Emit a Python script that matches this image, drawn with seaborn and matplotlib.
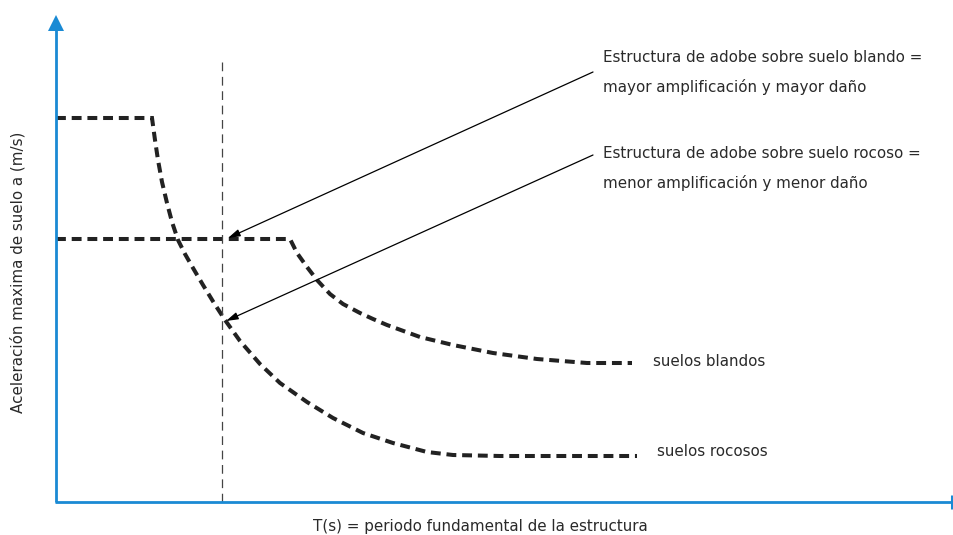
import numpy as np
import pandas as pd
import matplotlib
matplotlib.use("Agg")
import matplotlib.pyplot as plt
import seaborn as sns

# =========================================================
# DATOS (T en s, a en m/s)
# =========================================================
rocoso_T = [0.00, 0.96, 0.99, 1.02, 1.06, 1.11, 1.16, 1.22, 1.29, 1.37, 1.47,
            1.58, 1.69, 1.84, 2.04, 2.24, 2.51, 2.77, 3.07, 3.37, 3.71, 3.97,
            4.44, 5.81]
rocoso_a = [3.84, 3.84, 3.62, 3.42, 3.20, 2.99, 2.80, 2.62, 2.48, 2.34, 2.17,
            1.99, 1.82, 1.61, 1.38, 1.19, 1.00, 0.84, 0.69, 0.59, 0.50, 0.47,
            0.46, 0.46]

blando_T = [0.00, 2.34, 2.41, 2.51, 2.61, 2.74, 2.87, 3.04, 3.17, 3.31,
            3.64, 3.97, 4.37, 4.81, 5.31, 5.76]
blando_a = [2.63, 2.63, 2.49, 2.35, 2.22, 2.08, 1.98, 1.89, 1.83, 1.77,
            1.65, 1.57, 1.49, 1.43, 1.39, 1.39]

T_estructura = 1.66          # linea vertical (periodo de la estructura)
T_linea_top = 4.42

# flechas: (inicio texto) -> (punto en la curva)
flecha_blando = [(5.37, 4.30), (1.72, 2.64)]
flecha_rocoso = [(5.37, 3.47), (1.70, 1.81)]

textos_blando = ["Estructura de adobe sobre suelo blando =",
                 "mayor amplificación y mayor daño"]
textos_rocoso = ["Estructura de adobe sobre suelo rocoso =",
                 "menor amplificación y menor daño"]
etiqueta_blando = "suelos blandos"
etiqueta_rocoso = "suelos rocosos"
xlabel = "T(s) = periodo fundamental de la estructura"
ylabel = "Aceleración maxima de suelo a (m/s)"

# =========================================================
# ESTILO
# =========================================================
sns.set_theme(style="white")
plt.rcParams['font.family'] = ['DejaVu Sans']
AZUL = "#1a8ad4"
NEGRO = "#222222"
TXT = "#2a2a2a"
FS = 10.9

W, H = 954, 535
fig = plt.figure(figsize=(W / 100, H / 100), dpi=100)
ax = fig.add_axes([56 / W, 33 / H, (W - 56) / W, 492 / H])
ax.set_xlim(0, 8.98)
ax.set_ylim(0, 4.92)
ax.axis("off")

df_r = pd.DataFrame({"T": rocoso_T, "a": rocoso_a})
df_b = pd.DataFrame({"T": blando_T, "a": blando_a})

for df in (df_r, df_b):
    sns.lineplot(data=df, x="T", y="a", sort=False, color=NEGRO,
                 linewidth=2.9, ax=ax)
    ln = ax.lines[-1]
    ln.set_dashes((2.45, 1.45))
    ln.set_dash_capstyle("butt")
    ln.set_dash_joinstyle("miter")

# linea vertical discontinua
ax.plot([T_estructura, T_estructura], [0, T_linea_top], color="#444444",
        linewidth=0.9, dashes=(7, 4.5))

# ejes azules con flecha
ax.plot([0, 0], [0, 4.72], color=AZUL, linewidth=2.0,
        solid_capstyle="butt", clip_on=False)
ax.plot([0], [4.79], marker="^", markersize=12, color=AZUL,
        markeredgewidth=0, clip_on=False)
ax.plot([-0.01, 8.96], [0, 0], color=AZUL, linewidth=2.0,
        solid_capstyle="butt", clip_on=False)
ax.plot([8.96, 8.96], [-0.07, 0.07], color=AZUL, linewidth=2.2,
        solid_capstyle="butt", clip_on=False)

# flechas
for (p0, p1) in (flecha_blando, flecha_rocoso):
    ax.annotate("", xy=p1, xytext=p0,
                arrowprops=dict(arrowstyle="-|>,head_length=0.6,head_width=0.18",
                                color="black", linewidth=0.9,
                                shrinkA=0, shrinkB=0))

# textos
ax.text(5.47, 4.44, textos_blando[0], fontsize=FS, color=TXT, va="center")
ax.text(5.47, 4.15, textos_blando[1], fontsize=FS, color=TXT, va="center")
ax.text(5.47, 3.48, textos_rocoso[0], fontsize=FS, color=TXT, va="center")
ax.text(5.47, 3.19, textos_rocoso[1], fontsize=FS, color=TXT, va="center")
ax.text(5.97, 1.40, etiqueta_blando, fontsize=FS, color=TXT, va="center")
ax.text(6.01, 0.51, etiqueta_rocoso, fontsize=FS, color=TXT, va="center")

fig.text(480 / W, 1 - 526 / H, xlabel, fontsize=FS, color=TXT,
         ha="center", va="center")
fig.text(18 / W, 1 - 272 / H, ylabel, fontsize=FS, color=TXT,
         ha="center", va="center", rotation=90)

fig.savefig("out.png", dpi=100, facecolor="white")
